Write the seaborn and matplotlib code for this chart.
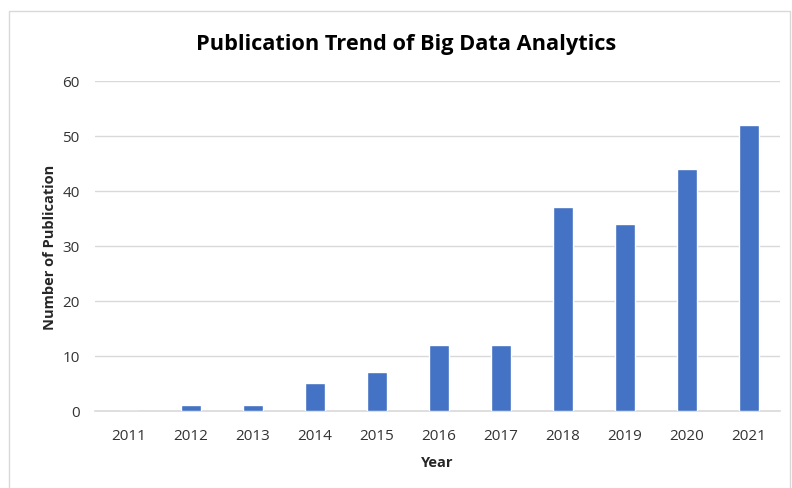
import pandas as pd
import matplotlib.pyplot as plt
import seaborn as sns
from matplotlib.patches import Rectangle


# Data
years = ["2011", "2012", "2013", "2014", "2015", "2016",
         "2017", "2018", "2019", "2020", "2021"]
publications = [0, 1, 1, 5, 7, 12, 12, 37, 34, 44, 52]
y_ticks = [0, 10, 20, 30, 40, 50, 60]

df = pd.DataFrame({"Year": years, "Publications": publications})


sns.set_style("white")
plt.rcParams["font.family"] = ["Open Sans", "DejaVu Sans"]

fig = plt.figure(figsize=(7.92, 4.89), dpi=100)
ax = fig.add_axes([0.12, 0.1575, 0.865, 0.675])

sns.barplot(
    data=df,
    x="Year",
    y="Publications",
    color="#4472C4",
    saturation=1,
    width=0.32,
    ax=ax,
    zorder=3
)

ax.set_ylim(0, 60)
ax.set_yticks(y_ticks)
ax.set_xlim(-0.54, 10.5)
ax.yaxis.grid(True, color="#D9D9D9", linewidth=1, zorder=0)
ax.set_axisbelow(True)

for side in ["top", "right", "left"]:
    ax.spines[side].set_visible(False)
ax.spines["bottom"].set_color("#D9D9D9")
ax.spines["bottom"].set_linewidth(1.2)

ax.tick_params(axis="both", length=0, labelsize=11, labelcolor="#333333")
ax.tick_params(axis="x", pad=12)
ax.tick_params(axis="y", pad=11)

ax.set_xlabel("Year", fontsize=10.5, fontweight="bold", labelpad=9)
ax.set_ylabel("Number of Publication", fontsize=10.5, fontweight="bold", labelpad=4)

fig.suptitle("Publication Trend of Big Data Analytics",
             x=0.513, y=0.93, fontsize=15.7, fontweight="bold", color="black")

# Light chart border
fig.patches.append(Rectangle(
    (0.011, -0.02), 0.987, 0.995,
    transform=fig.transFigure, fill=False,
    edgecolor="#D9D9D9", linewidth=1
))

plt.savefig("out.png", dpi=100)
plt.close()
